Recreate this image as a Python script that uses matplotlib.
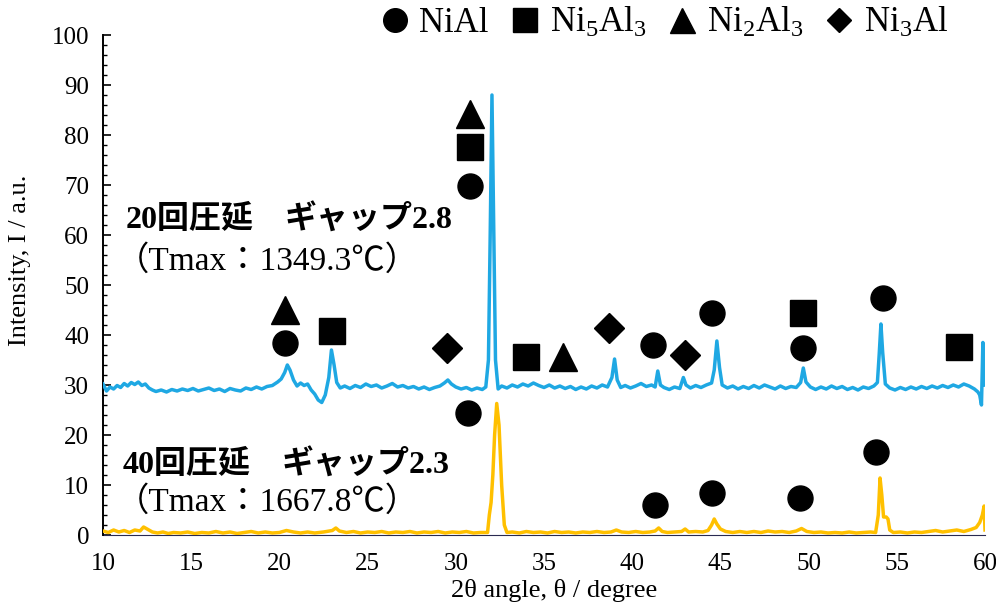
import matplotlib
matplotlib.use("Agg")
import matplotlib.pyplot as plt
from matplotlib.lines import Line2D
from matplotlib.ticker import MultipleLocator

plt.rcParams["font.family"] = ["Liberation Serif", "Noto Sans CJK JP"]
plt.rcParams["mathtext.default"] = "regular"

# 20回圧延 (blue trace)
blue_x = [10.0, 10.2, 10.4, 10.6, 10.8, 11.0, 11.2, 11.4, 11.6, 11.8, 12.0, 12.2, 12.4, 12.6,
          12.8, 13.0, 13.3, 13.6, 13.9, 14.2, 14.5, 14.8, 15.1, 15.4, 15.7, 16.0, 16.3, 16.6,
          16.9, 17.2, 17.5, 17.8, 18.1, 18.4, 18.7, 19.0, 19.3, 19.6, 19.9, 20.1, 20.3, 20.45,
          20.6, 20.8, 21.0, 21.2, 21.4, 21.6, 21.8, 22.0, 22.2, 22.4, 22.6, 22.8, 22.95, 23.1,
          23.25, 23.45, 23.7, 24.0, 24.3, 24.6, 24.9, 25.2, 25.5, 25.8, 26.1, 26.4, 26.7, 27.0,
          27.3, 27.6, 27.9, 28.2, 28.5, 28.8, 29.1, 29.35, 29.55, 29.75, 30.0, 30.3, 30.6, 30.9,
          31.2, 31.5, 31.7, 31.85, 31.95, 32.05, 32.15, 32.25, 32.4, 32.6, 32.9, 33.2, 33.5,
          33.8, 34.1, 34.4, 34.7, 35.0, 35.3, 35.6, 35.9, 36.2, 36.5, 36.8, 37.1, 37.4, 37.7,
          38.0, 38.3, 38.6, 38.85, 39.0, 39.15, 39.35, 39.6, 39.9, 40.2, 40.5, 40.8, 41.1, 41.3,
          41.45, 41.6, 41.8, 42.1, 42.4, 42.7, 42.9, 43.05, 43.3, 43.6, 43.9, 44.2, 44.5, 44.65,
          44.8, 44.95, 45.1, 45.4, 45.7, 46.0, 46.3, 46.6, 46.9, 47.2, 47.5, 47.8, 48.1, 48.4,
          48.7, 49.0, 49.3, 49.55, 49.7, 49.85, 50.1, 50.4, 50.7, 51.0, 51.3, 51.6, 51.9, 52.2,
          52.5, 52.8, 53.1, 53.4, 53.7, 53.9, 54.0, 54.1, 54.2, 54.35, 54.6, 54.9, 55.2, 55.5,
          55.8, 56.1, 56.4, 56.7, 57.0, 57.3, 57.6, 57.9, 58.2, 58.5, 58.8, 59.1, 59.4, 59.6,
          59.7, 59.8, 59.88, 59.95, 60.0]
blue_y = [30.2, 28.8, 29.6, 29.2, 29.9, 29.5, 30.3, 29.8, 30.5, 30.1, 30.6, 29.9, 30.2, 29.4,
          29.0, 28.7, 29.0, 28.6, 29.1, 28.8, 29.2, 28.9, 29.3, 28.8, 29.1, 29.4, 28.9, 29.2,
          28.7, 29.3, 29.0, 28.8, 29.4, 29.1, 29.6, 29.2, 29.7, 29.9, 30.6, 31.2, 32.5, 34.0,
          33.0, 31.0, 29.8, 30.4, 29.9, 30.2, 29.0, 28.2, 27.0, 26.5, 28.0, 31.5, 37.0, 34.0,
          30.5, 29.4, 29.8, 29.3, 29.9, 29.5, 30.2, 29.7, 30.0, 29.4, 29.8, 30.3, 29.6, 29.9,
          29.4, 29.7, 29.2, 29.6, 29.1, 29.5, 29.8, 30.4, 31.0, 30.2, 29.6, 29.2, 29.5, 29.0,
          29.4, 29.1, 29.6, 35.0, 60.0, 88.0, 62.0, 35.0, 29.2, 29.8, 29.4, 30.0, 29.6,
          30.2, 29.8, 30.4, 29.9, 29.5, 30.0, 29.4, 29.8, 29.3, 29.7, 29.1, 29.6, 29.2, 29.8,
          29.4, 30.0, 29.6, 31.5, 35.2, 31.0, 29.5, 29.9, 29.4, 29.8, 30.3, 29.7, 30.0, 29.6,
          32.8, 30.0, 29.5, 29.1, 29.6, 29.3, 31.5, 30.0, 29.4, 29.9, 29.5, 30.0, 30.4, 33.0,
          38.8, 33.5, 30.0, 29.4, 29.8, 29.2, 29.7, 29.3, 29.9, 29.4, 30.0, 29.6, 29.2, 29.8,
          29.3, 29.7, 29.5, 30.5, 33.4, 30.6, 29.6, 29.1, 29.6, 29.2, 29.8, 29.3, 29.7, 29.1,
          29.5, 29.0, 29.6, 29.3, 29.8, 30.5, 36.0, 42.2, 36.5, 30.2, 29.4, 29.0, 29.5, 29.1,
          29.6, 29.2, 29.7, 29.3, 29.8, 29.4, 29.9, 29.5, 30.0, 29.6, 30.2, 29.8, 29.2, 28.6,
          28.0, 26.0, 38.5, 31.0, 30.0]

# 40回圧延 (yellow trace)
yellow_x = [10.0, 10.3, 10.6, 10.9, 11.2, 11.5, 11.8, 12.1, 12.3, 12.5, 12.8, 13.1, 13.4, 13.7,
            14.0, 14.4, 14.8, 15.2, 15.6, 16.0, 16.4, 16.8, 17.2, 17.6, 18.0, 18.4, 18.8, 19.2,
            19.6, 20.0, 20.4, 20.8, 21.2, 21.6, 22.0, 22.5, 23.0, 23.2, 23.4, 23.8, 24.2, 24.6,
            25.0, 25.4, 25.8, 26.2, 26.6, 27.0, 27.4, 27.8, 28.2, 28.6, 29.0, 29.4, 29.8, 30.2,
            30.6, 31.0, 31.4, 31.8, 31.9, 32.0, 32.1, 32.2, 32.32, 32.45, 32.6, 32.75, 32.9,
            33.2, 33.6, 34.0, 34.4, 34.8, 35.2, 35.6, 36.0, 36.4, 36.8, 37.2, 37.6, 38.0, 38.4,
            38.8, 39.1, 39.4, 39.8, 40.2, 40.6, 41.0, 41.3, 41.5, 41.7, 42.0, 42.4, 42.8, 43.0,
            43.2, 43.6, 44.0, 44.3, 44.5, 44.65, 44.8, 45.0, 45.3, 45.7, 46.1, 46.5, 46.9, 47.3,
            47.7, 48.1, 48.5, 48.9, 49.3, 49.6, 49.9, 50.3, 50.7, 51.1, 51.5, 51.9, 52.3, 52.7,
            53.1, 53.5, 53.8, 53.95, 54.05, 54.15, 54.25, 54.4, 54.5, 54.6, 54.8, 55.2, 55.6,
            56.0, 56.4, 56.8, 57.2, 57.6, 58.0, 58.4, 58.8, 59.2, 59.5, 59.7, 59.85, 59.95, 60.0]
yellow_y = [0.8, 0.5, 1.0, 0.6, 0.9, 0.5, 1.0, 0.8, 1.6, 1.2, 0.6, 0.4, 0.6, 0.3,
            0.5, 0.4, 0.6, 0.3, 0.5, 0.4, 0.7, 0.4, 0.6, 0.3, 0.5, 0.7, 0.4, 0.6,
            0.4, 0.5, 0.9, 0.6, 0.4, 0.6, 0.4, 0.6, 0.9, 1.4, 0.8, 0.5, 0.7, 0.4,
            0.6, 0.5, 0.7, 0.4, 0.6, 0.5, 0.7, 0.4, 0.6, 0.5, 0.7, 0.4, 0.6, 0.5,
            0.7, 0.4, 0.5, 0.5, 4.0, 6.5, 12.0, 20.0, 26.3, 22.0, 10.0, 2.0, 0.5,
            0.6, 0.4, 0.7, 0.5, 0.6, 0.4, 0.7, 0.5, 0.6, 0.4, 0.6, 0.5, 0.7, 0.5,
            0.6, 1.0, 0.6, 0.5, 0.7, 0.5, 0.6, 0.8, 1.4, 0.7, 0.5, 0.6, 0.7, 1.2,
            0.6, 0.7, 0.6, 0.9, 2.0, 3.2, 2.2, 1.2, 0.7, 0.5, 0.7, 0.5, 0.7, 0.5,
            0.8, 0.6, 0.7, 0.5, 0.8, 1.3, 0.7, 0.5, 0.6, 0.4, 0.5, 0.4, 0.6, 0.4,
            0.5, 0.6, 0.5, 4.0, 11.4, 8.0, 3.6, 3.6, 3.2, 1.0, 0.5, 0.6, 0.4,
            0.6, 0.5, 0.7, 0.9, 0.6, 0.8, 1.0, 0.7, 1.1, 1.5, 2.5, 4.0, 5.8, 1.0]

# phase markers: (2θ, height) for each phase
nial_x = [20.3, 30.8, 41.2, 44.5, 49.7, 54.2, 30.7, 41.3, 44.5, 49.5, 53.8]
nial_y = [38.4, 69.8, 38.0, 44.4, 37.4, 47.4, 24.4, 6.0, 8.4, 7.4, 16.6]
ni5al3_x = [23.0, 30.8, 34.0, 49.7, 58.5]
ni5al3_y = [40.8, 77.6, 35.6, 44.4, 37.6]
ni2al3_x = [20.3, 30.8, 36.1]
ni2al3_y = [45.0, 84.2, 35.6]
ni3al_x = [29.5, 38.7, 43.0]
ni3al_y = [37.4, 41.4, 36.0]

phase_labels = ["NiAl", "Ni$_5$Al$_3$", "Ni$_2$Al$_3$", "Ni$_3$Al"]

fig = plt.figure(figsize=(9.96, 6.06), dpi=100)
ax = fig.add_axes([103 / 996, 71 / 606, 882 / 996, 500 / 606])

ax.plot(yellow_x, yellow_y, color="#ffc000", lw=2.5, zorder=3)
ax.plot(blue_x, blue_y, color="#1fa8e3", lw=2.5, zorder=3)

ax.plot(nial_x, nial_y, "o", color="black", ms=18, zorder=4)
ax.plot(ni5al3_x, ni5al3_y, "s", color="black", ms=19, zorder=4)
ax.plot(ni2al3_x, ni2al3_y, "^", color="black", ms=20, zorder=4)
ax.plot(ni3al_x, ni3al_y, "D", color="black", ms=15.5, zorder=4)

ax.set_xlim(10, 60)
ax.set_ylim(0, 100)
ax.xaxis.set_major_locator(MultipleLocator(5))
ax.yaxis.set_major_locator(MultipleLocator(10))
ax.yaxis.set_minor_locator(MultipleLocator(2))
ax.tick_params(axis="x", length=0, pad=13, labelsize=18)
ax.tick_params(axis="y", which="major", direction="in", length=6, width=1.2, pad=10, labelsize=18)
ax.tick_params(axis="y", which="minor", direction="in", length=3, width=1.0)

for side in ["top", "right"]:
    ax.spines[side].set_visible(False)
ax.spines["left"].set_linewidth(1.4)
ax.spines["bottom"].set_color("#2a2a50")
ax.spines["bottom"].set_linewidth(0.8)
ax.spines["bottom"].set_zorder(2)

ax.set_xlabel("2θ angle, θ / degree", fontsize=19)
ax.xaxis.set_label_coords(0.512, -0.088)
ax.set_ylabel("Intensity, I / a.u.", fontsize=19)
ax.yaxis.set_label_coords(-0.082, 0.55)

ax.text(11.3, 63, "20回圧延", fontsize=23, fontweight="bold", va="center")
ax.text(20.3, 63, "ギャップ2.8", fontsize=23, fontweight="bold", va="center")
ax.text(10.75, 54.8, "（Tmax：1349.3℃）", fontsize=24, va="center")
ax.text(11.1, 14, "40回圧延", fontsize=23, fontweight="bold", va="center")
ax.text(20.1, 14, "ギャップ2.3", fontsize=23, fontweight="bold", va="center")
ax.text(10.75, 6.6, "（Tmax：1667.8℃）", fontsize=24, va="center")

handles = [
    Line2D([], [], marker="o", ls="none", color="black", ms=17),
    Line2D([], [], marker="s", ls="none", color="black", ms=17),
    Line2D([], [], marker="^", ls="none", color="black", ms=18),
    Line2D([], [], marker="D", ls="none", color="black", ms=12),
]
fig.legend(handles, phase_labels, ncol=4, loc="center right", bbox_to_anchor=(0.969, 0.962),
           frameon=False, fontsize=25, handlelength=0.7, handletextpad=0.35,
           columnspacing=0.7, borderpad=0)

fig.savefig("out.png", dpi=100)
